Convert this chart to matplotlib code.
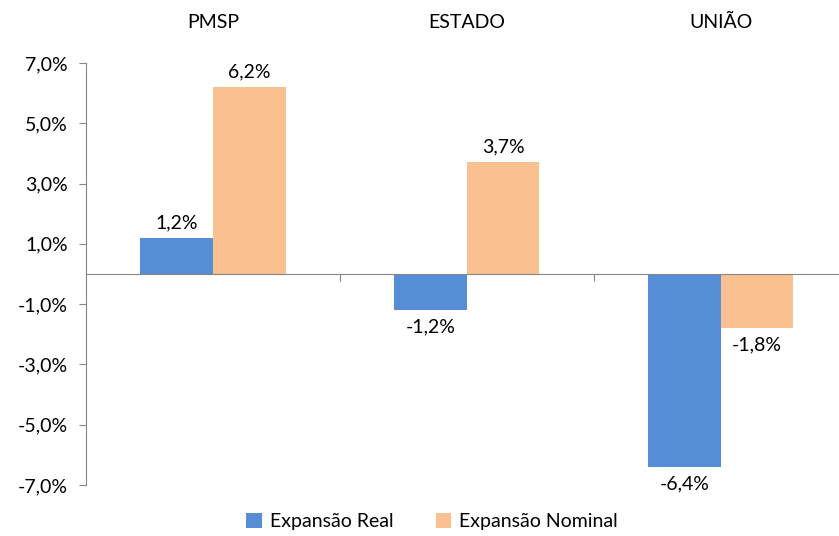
import matplotlib.pyplot as plt
import numpy as np

categories = ["PMSP", "ESTADO", "UNIÃO"]
real = [1.2, -1.2, -6.4]
nominal = [6.2, 3.7, -1.8]
series_names = ["Expansão Real", "Expansão Nominal"]
yticks = [7, 5, 3, 1, -1, -3, -5, -7]

plt.rcParams['font.family'] = ['Lato', 'DejaVu Sans']
fs = 14

fig = plt.figure(figsize=(8.39, 5.36), dpi=100)
ax = fig.add_axes([0.1025, 0.0951, 0.908, 0.7874])

x = np.arange(len(categories))
w = 0.2857
blue = "#558ED5"
orange = "#FAC090"
b1 = ax.bar(x - w / 2, real, w, color=blue, label=series_names[0])
b2 = ax.bar(x + w / 2, nominal, w, color=orange, label=series_names[1])

for bars, vals in ((b1, real), (b2, nominal)):
    for bar, v in zip(bars, vals):
        cx = bar.get_x() + bar.get_width() / 2
        txt = f"{v:.1f}%".replace(".", ",")
        if v >= 0:
            ax.annotate(txt, (cx, v), xytext=(0, 5), textcoords="offset points",
                        ha="center", va="bottom", fontsize=fs)
        else:
            ax.annotate(txt, (cx, v), xytext=(0, -6), textcoords="offset points",
                        ha="center", va="top", fontsize=fs)

ax.set_xlim(-0.5, 2.5)
ax.set_ylim(-7, 7)
ax.set_yticks(yticks)
ax.set_yticklabels([f"{t:.1f}%".replace(".", ",") for t in yticks], fontsize=fs)

gray = "#868686"
for s in ("top", "right"):
    ax.spines[s].set_visible(False)
ax.spines["left"].set_color(gray)
ax.spines["bottom"].set_position(("data", 0))
ax.spines["bottom"].set_color(gray)
ax.set_xticks([0.5, 1.5])
ax.set_xticklabels([])
ax.tick_params(axis="x", direction="out", length=5, color=gray)
ax.tick_params(axis="y", direction="out", length=5, color=gray, pad=8)

for i, c in enumerate(categories):
    ax.text(i, 1.095, c, transform=ax.get_xaxis_transform(), ha="center",
            va="center", fontsize=fs)

fig.legend(handles=[b1, b2], loc="center", bbox_to_anchor=(0.515, 0.027), ncol=2,
           frameon=False, fontsize=fs, handlelength=0.8, handleheight=0.8,
           columnspacing=2.2, handletextpad=0.4)

fig.savefig("out.png", dpi=100)
